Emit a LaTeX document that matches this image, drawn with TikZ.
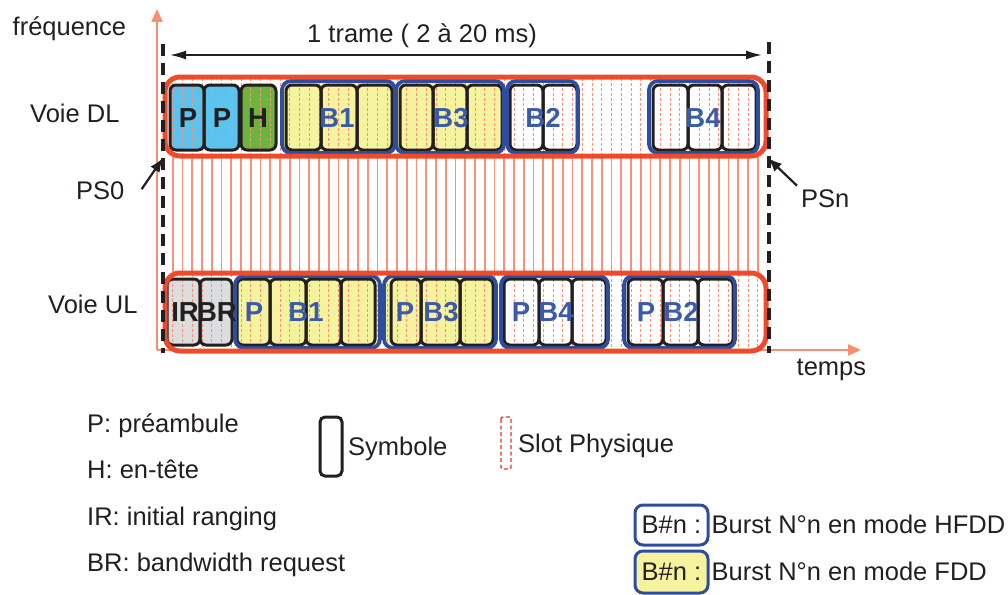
\documentclass[tikz,border=0pt]{standalone}
\usepackage{fontspec}
\setmainfont{Liberation Sans}
\usetikzlibrary{positioning,arrows.meta}
\definecolor{framered}{HTML}{EF4A2A}
\definecolor{axissalmon}{HTML}{F6906F}
\definecolor{slotsalmon}{HTML}{F4937A}
\definecolor{slotred}{HTML}{E5322D}
\definecolor{burstblue}{HTML}{2F4D9E}
\definecolor{labelblue}{HTML}{3B5BA9}
\definecolor{pblue}{HTML}{5BC3EE}
\definecolor{hgreen}{HTML}{6BB53F}
\definecolor{fddyellow}{HTML}{F6F39E}
\definecolor{irgrey}{HTML}{DCDDDE}
\definecolor{inkblack}{HTML}{231F20}
\tikzset{
  txt/.style     = {font=\fontsize{25.5}{30}\selectfont, text=inkblack, inner sep=0pt},
  blk/.style     = {font=\fontsize{27.5}{30}\selectfont\bfseries, text=inkblack, inner sep=0pt},
  blu/.style     = {blk, text=labelblue},
  frame/.style   = {draw=framered, line width=5pt, rounded corners=15pt},
  burst/.style   = {draw=burstblue, line width=3.8pt, rounded corners=9pt},
  symb/.style    = {draw=inkblack, line width=3pt, rounded corners=6pt},
  slotgap/.style = {draw=slotsalmon, line width=1.8pt},
  slotin/.style  = {draw=slotsalmon, line width=0.9pt, dash pattern=on 3pt off 2pt},
  slotleg/.style = {draw=slotred, line width=1.4pt, dash pattern=on 4pt off 2.5pt, rounded corners=2pt},
  axis/.style    = {draw=axissalmon, line width=2.2pt, -{Triangle[length=13pt,width=11pt]}},
  psline/.style  = {draw=inkblack, line width=4pt, dash pattern=on 12pt off 7pt},
  psarr/.style   = {-{Latex[length=14pt,width=11pt]}, line width=2.2pt, draw=inkblack},
  trarr/.style   = {{Latex[length=16pt,width=9pt]}-{Latex[length=16pt,width=9pt]}, line width=1.6pt, draw=inkblack},
  legbox/.style  = {txt, draw=burstblue, line width=3pt, rounded corners=8pt,
                    minimum width=73pt, minimum height=40pt},
}

\begin{document}
\begin{tikzpicture}[x=1pt, y=-1pt]
  \useasboundingbox (0,0) rectangle (1008,594);

  % axes
  \coordinate (orig) at (157,350);
  \coordinate (ftop) at (157,9);
  \coordinate (tend) at (861,350);
  \draw[axis] (orig) -- (ftop);
  \draw[axis] (orig) -- (tend);

  % fills
  \foreach \a/\b/\c/\d in {282/395/81/153, 396/504/81/153, 235/380/276/348, 384/496/276/348}
    \fill[fddyellow, rounded corners=8pt] (\a,\c) rectangle (\b,\d);
  \foreach \a/\b/\c in {170/204/pblue, 204/239/pblue, 241/276/hgreen}
    \fill[\c, rounded corners=6pt] (\a,85) rectangle (\b,150);
  \foreach \a/\b in {167/200, 200/232}
    \fill[irgrey, rounded corners=6pt] (\a,279) rectangle (\b,345);

  % physical slots
  \foreach \k in {1,...,61} {
    \draw[slotgap] ({163+\k*9.75},157) -- ({163+\k*9.75},272);
    \draw[slotin]  ({163+\k*9.75},78)  -- ({163+\k*9.75},155);
    \draw[slotin]  ({163+\k*9.75},274) -- ({163+\k*9.75},350);
  }

  % symbols
  \foreach \a/\b in {170/204, 204/239, 241/276, 286/321, 321/357, 357/392, 400/433, 433/467,
                     467/502, 510/543, 543/577, 653/688, 688/722, 722/756}
    \draw[symb] (\a,85) rectangle (\b,150);
  \foreach \a/\b in {167/200, 200/232, 237/270, 270/306, 306/341, 341/375, 391/421, 421/460,
                     460/493, 504/539, 539/572, 572/606, 628/663, 663/698, 698/733}
    \draw[symb] (\a,279) rectangle (\b,345);

  % bursts
  \foreach \a/\b in {282/395, 396/504, 507/578, 649/758}
    \draw[burst] (\a,81) rectangle (\b,153);
  \foreach \a/\b in {235/380, 384/496, 501/608, 624/735}
    \draw[burst] (\a,276) rectangle (\b,348);

  % DL and UL channels
  \draw[frame] (165,77) rectangle (766,156);
  \draw[frame] (165,273) rectangle (766,351);

  % labels DL
  \node[blk, anchor=base] (dlP1) at (188,127) {P};
  \node[blk, anchor=base] (dlP2) at (222,127) {P};
  \node[blk, anchor=base] (dlH)  at (258,127) {H};
  \node[blu, anchor=base] (dlB1) at (337,127) {B1};
  \node[blu, anchor=base] (dlB3) at (451,127) {B3};
  \node[blu, anchor=base] (dlB2) at (543,127) {B2};
  \node[blu, anchor=base] (dlB4) at (703,127) {B4};

  % labels UL
  \node[blk, anchor=base] (ulIR) at (185,321) {IR};
  \node[blk, anchor=base] (ulBR) at (217,321) {BR};
  \node[blu, anchor=base] (ulP1) at (254,321) {P};
  \node[blu, anchor=base] (ulB1) at (306,321) {B1};
  \node[blu, anchor=base] (ulP3) at (405,321) {P};
  \node[blu, anchor=base] (ulB3) at (441,321) {B3};
  \node[blu, anchor=base] (ulP4) at (521,321) {P};
  \node[blu, anchor=base] (ulB4) at (556,321) {B4};
  \node[blu, anchor=base] (ulP2) at (646,321) {P};
  \node[blu, anchor=base] (ulB2) at (681,321) {B2};

  % frame limits
  \coordinate (ps0top) at (162.5,44);
  \coordinate (ps0bot) at (162.5,353);
  \coordinate (psntop) at (769,42);
  \coordinate (psnbot) at (769,353);
  \draw[psline] (ps0top) -- (ps0bot);
  \draw[psline] (psntop) -- (psnbot);

  \node[txt, anchor=base] (trame) at (422,42) {1 trame ( 2 à 20 ms)};
  \coordinate (trL) at (170,55);
  \coordinate (trR) at (762,55);
  \draw[trarr] (trL) -- (trR);

  \node[txt, anchor=base west] (freq)  at (12.5,36) {fréquence};
  \node[txt, anchor=base west] (temps) at (796.5,375) {temps};
  \node[txt, anchor=base west] (voiedl) at (30,122) {Voie DL};
  \node[txt, anchor=base west] (voieul) at (48,313) {Voie UL};
  \node[txt, anchor=base west] (ps0) at (76,199) {PS0};
  \node[txt, anchor=base west] (psn) at (801,207.5) {PSn};
  \coordinate (ps0tip) at (163,158);
  \coordinate (psntip) at (768,158);
  \draw[psarr] ([shift={(17,-1)}]ps0.east) -- (ps0tip);
  \draw[psarr] ([shift={(-4,-13)}]psn.west) -- (psntip);

  % legend
  \node[txt, anchor=base west] (legP)  at (87,432.5) {P: préambule};
  \node[txt, anchor=base west] (legH)  at (87,478) {H: en-tête};
  \node[txt, anchor=base west] (legIR) at (87,525) {IR: initial ranging};
  \node[txt, anchor=base west] (legBR) at (87,571.5) {BR: bandwidth request};

  \draw[symb, rounded corners=5pt] (320,417) rectangle (342,476);
  \node[txt, anchor=base west] (legsym) at (348,455) {Symbole};
  \draw[slotleg] (501,417) rectangle (511,469);
  \node[txt, anchor=base west] (legslot) at (518,452.5) {Slot Physique};

  \node[legbox] (hfdd) at (671.5,525) {B\#n :};
  \node[txt, base right=2pt of hfdd] (hfddtxt) {Burst N°n en mode HFDD};
  \node[legbox, fill=fddyellow, minimum height=42pt] (fdd) at (671.5,572) {B\#n :};
  \node[txt, base right=2pt of fdd] (fddtxt) {Burst N°n en mode FDD};
\end{tikzpicture}
\end{document}
